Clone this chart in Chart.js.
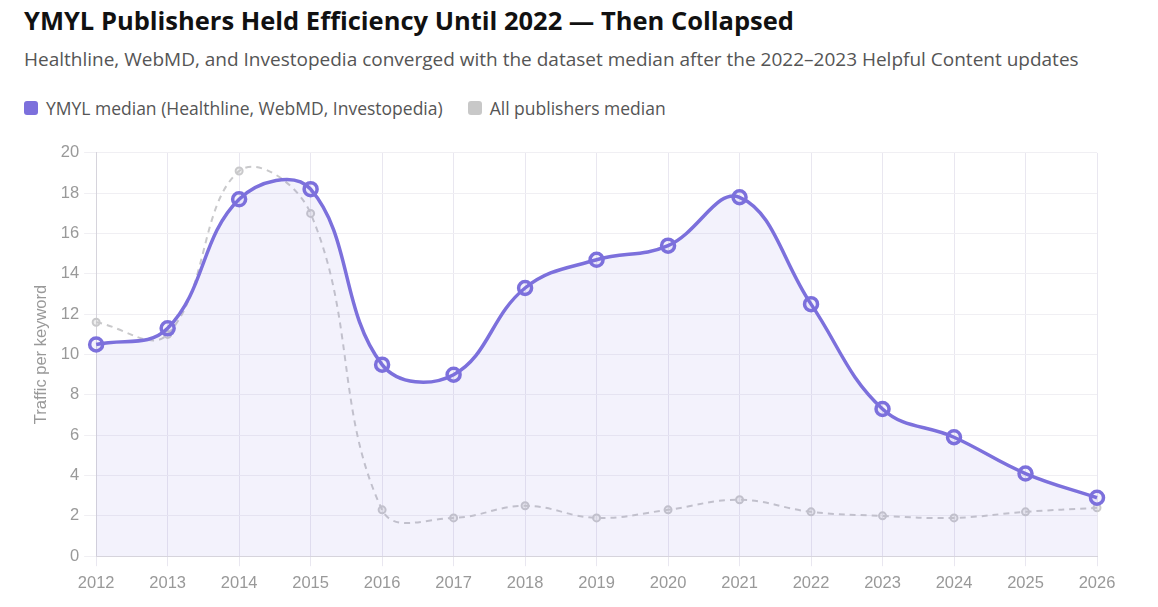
<!DOCTYPE html>
<html>
<head>
<meta charset="utf-8">
<script src="https://cdn.jsdelivr.net/npm/chart.js"></script>
<style>
  body { margin: 0; background: #fff; font-family: "Open Sans", "Noto Sans", sans-serif; }
  .titulo { position: absolute; left: 24px; top: 4px; margin: 0; font-size: 25.5px; font-weight: 700; color: #111; line-height: 32px; white-space: nowrap; }
  .sub { position: absolute; left: 24px; top: 46px; margin: 0; font-size: 19px; color: #555; line-height: 26px; white-space: nowrap; }
  .leyenda { position: absolute; left: 24px; top: 96px; height: 24px; line-height: 24px; font-size: 17.5px; color: #555; display: flex; white-space: nowrap; }
  .leyenda span.item { display: flex; align-items: center; margin-right: 25px; }
  .leyenda span.caja { width: 14px; height: 14px; border-radius: 3px; margin-right: 8px; display: inline-block; }
  .wrap { position: absolute; left: 24px; top: 138px; width: 1110px; height: 462px; }
</style>
</head>
<body>
<h1 class="titulo">YMYL Publishers Held Efficiency Until 2022 — Then Collapsed</h1>
<p class="sub">Healthline, WebMD, and Investopedia converged with the dataset median after the 2022–2023 Helpful Content updates</p>
<div class="leyenda" id="leyenda"></div>
<div class="wrap"><canvas id="grafico"></canvas></div>
<script>
// años del eje x
const anios = ["2012", "2013", "2014", "2015", "2016", "2017", "2018", "2019", "2020", "2021", "2022", "2023", "2024", "2025", "2026"]

// mediana YMYL (Healthline, WebMD, Investopedia)
const medianaYmyl = [10.5, 11.3, 17.7, 18.2, 9.5, 9.0, 13.3, 14.7, 15.4, 17.8, 12.5, 7.3, 5.9, 4.1, 2.9]

// mediana de todos los publishers
const medianaTodos = [11.6, 11.0, 19.1, 17.0, 2.3, 1.9, 2.5, 1.9, 2.3, 2.8, 2.2, 2.0, 1.9, 2.2, 2.4]

const fuenteEjes = '"Liberation Sans", Arial, sans-serif'

let ymyl = {
    label: "YMYL median (Healthline, WebMD, Investopedia)",
    data: medianaYmyl,
    borderColor: "#7C70DC",
    backgroundColor: "rgba(124, 112, 220, 0.09)",
    fill: true,
    tension: 0.4,
    borderWidth: 3.5,
    pointRadius: 6.5,
    pointBorderWidth: 3.5,
    pointBackgroundColor: "rgba(124, 112, 220, 0.09)",
    pointBorderColor: "#7C70DC",
    order: 1
}

let todos = {
    label: "All publishers median",
    data: medianaTodos,
    borderColor: "#C9C9CB",
    backgroundColor: "#C9C9CB",
    fill: false,
    tension: 0.4,
    borderWidth: 2,
    borderDash: [6, 5],
    pointRadius: 3.5,
    pointBorderWidth: 2,
    pointBackgroundColor: "rgba(200, 200, 200, 0.3)",
    pointBorderColor: "#C9C9CB",
    order: 2
}

// leyenda en html, con los colores de cada serie
let leyenda = document.getElementById("leyenda")
let colores = ["#7C70DC", "#C8C8C8"]
;[ymyl, todos].forEach((ds, i) => {
    let item = document.createElement("span")
    item.className = "item"
    let caja = document.createElement("span")
    caja.className = "caja"
    caja.style.background = colores[i]
    item.appendChild(caja)
    item.appendChild(document.createTextNode(ds.label))
    leyenda.appendChild(item)
})

new Chart(document.getElementById("grafico"), {
    type: "line",
    data: {
        labels: anios,
        datasets: [ymyl, todos]
    },
    options: {
        responsive: true,
        maintainAspectRatio: false,
        animation: false,
        layout: { padding: { right: 37, left: 4 } },
        plugins: {
            legend: { display: false },
            tooltip: { enabled: false }
        },
        scales: {
            x: {
                grid: { color: "#E9E7F0", tickLength: 10 },
                border: { color: "#D6D4DC" },
                ticks: { font: { family: fuenteEjes, size: 16.5 }, color: "#999", padding: 7 }
            },
            y: {
                min: 0,
                max: 20,
                grid: { color: "#F0EFF3", tickLength: 12 },
                border: { color: "#D6D4DC" },
                ticks: { stepSize: 2, font: { family: fuenteEjes, size: 16.5 }, color: "#999", padding: 5 },
                title: {
                    display: true,
                    text: "Traffic per keyword",
                    font: { family: fuenteEjes, size: 16.5 },
                    color: "#999"
                }
            }
        }
    }
})
</script>
</body>
</html>
